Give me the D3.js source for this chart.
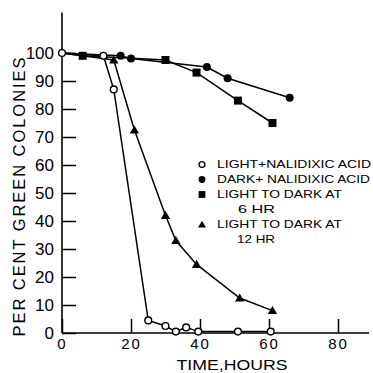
<!DOCTYPE html>
<html lang="en">
<head>
  <meta charset="UTF-8">
  <title>Per cent green colonies vs time</title>
  <script src="https://d3js.org/d3.v7.min.js"></script>
  <style>
    html, body { margin: 0; padding: 0; background: #fff; }
    svg text { font-family: "Liberation Sans", Arial, sans-serif; fill: #000; }
  </style>
</head>
<body>
  <div id="chart"></div>
  <script>
    // Data (time in hours, per cent green colonies)
    const lightNalHours = [0, 12, 15, 25, 30, 33, 36, 39.5, 51, 60.5];
    const lightNalPct   = [100, 99, 87, 4.5, 2.5, 0.5, 2, 0.5, 0.5, 0.5];

    const darkNalHours = [0, 17, 20, 42, 48, 66];
    const darkNalPct   = [100, 99, 98, 95, 91, 84];

    const dark6Hours = [0, 6, 30, 39, 51, 61];
    const dark6Pct   = [100, 99, 97.5, 93, 83, 75];

    const dark12Hours = [0, 15, 21, 30, 33, 39, 51.5, 61];
    const dark12Pct   = [100, 97.5, 72.5, 42, 33, 24.5, 12.5, 8];

    const xTicks = [0, 20, 40, 60, 80];
    const yTicks = [0, 10, 20, 30, 40, 50, 60, 70, 80, 90, 100];

    const legendLines = [
      ["LIGHT+NALIDIXIC ACID"],
      ["DARK+ NALIDIXIC ACID"],
      ["LIGHT TO DARK AT", "6 HR"],
      ["LIGHT TO DARK AT", "12 HR"]
    ];

    const width = 373, height = 373;

    const svg = d3.select("#chart").append("svg")
      .attr("width", width)
      .attr("height", height);

    // Scales
    const x = d3.scaleLinear().domain([0, 80]).range([62, 338]);
    const y = d3.scaleLinear().domain([0, 100]).range([333, 53]);

    // Axis lines (run past the last tick like the original)
    svg.append("line")
      .attr("x1", x(0)).attr("x2", x(0))
      .attr("y1", y(0)).attr("y2", y(114.5))
      .attr("stroke", "#000").attr("stroke-width", 1.6);
    svg.append("line")
      .attr("x1", x(0)).attr("x2", x(89))
      .attr("y1", y(0)).attr("y2", y(0))
      .attr("stroke", "#000").attr("stroke-width", 1.6);

    // Y axis, ticks point inward
    const yAxis = d3.axisLeft(y).tickValues(yTicks)
      .tickSizeInner(-14).tickSizeOuter(0).tickPadding(8)
      .tickFormat(d3.format("d"));
    const gy = svg.append("g")
      .attr("transform", `translate(${x(0)},0)`)
      .call(yAxis);
    gy.select(".domain").remove();
    gy.selectAll(".tick line").attr("stroke", "#000").attr("stroke-width", 1.5);
    gy.selectAll(".tick text")
      .attr("font-size", 17)
      .attr("font-family", "Liberation Sans, Arial, sans-serif");

    // X axis
    const xAxis = d3.axisBottom(x).tickValues(xTicks)
      .tickSizeInner(-14).tickSizeOuter(0).tickPadding(5)
      .tickFormat(d3.format("d"));
    const gx = svg.append("g")
      .attr("transform", `translate(0,${y(0)})`)
      .call(xAxis);
    gx.select(".domain").remove();
    gx.selectAll(".tick line").attr("stroke", "#000").attr("stroke-width", 1.5);
    gx.selectAll(".tick text")
      .attr("font-size", 15)
      .attr("letter-spacing", 2)
      .attr("font-family", "Liberation Sans, Arial, sans-serif");

    // Axis titles
    svg.append("text")
      .attr("x", 232).attr("y", 370)
      .attr("text-anchor", "middle")
      .attr("font-size", 15)
      .attr("textLength", 111)
      .attr("lengthAdjust", "spacingAndGlyphs")
      .text("TIME,HOURS");

    svg.append("text")
      .attr("transform", "translate(25,197) rotate(-90)")
      .attr("text-anchor", "middle")
      .attr("font-size", 16.5)
      .attr("textLength", 279)
      .attr("lengthAdjust", "spacing")
      .text("PER CENT GREEN COLONIES");

    // Series
    const zip = (xs, ys) => xs.map((h, i) => ({ h: h, p: ys[i] }));
    const series = [
      { pts: zip(dark6Hours, dark6Pct), marker: "square", skipFirst: true },
      { pts: zip(darkNalHours, darkNalPct), marker: "filled", skipFirst: true },
      { pts: zip(dark12Hours, dark12Pct), marker: "triangle", skipFirst: true },
      { pts: zip(lightNalHours, lightNalPct), marker: "open", skipFirst: false }
    ];

    const line = d3.line().x(d => x(d.h)).y(d => y(d.p));

    series.forEach(s => {
      svg.append("path")
        .datum(s.pts)
        .attr("d", line)
        .attr("fill", "none")
        .attr("stroke", "#000")
        .attr("stroke-width", 1.5);
    });

    function drawMarker(g, type, cx, cy, scale) {
      const k = scale || 1;
      if (type === "open") {
        g.append("circle").attr("cx", cx).attr("cy", cy).attr("r", 3.4 * k)
          .attr("fill", "#fff").attr("stroke", "#000").attr("stroke-width", 1.4);
      } else if (type === "filled") {
        g.append("circle").attr("cx", cx).attr("cy", cy).attr("r", 4 * k)
          .attr("fill", "#000");
      } else if (type === "square") {
        const s = 8 * k;
        g.append("rect").attr("x", cx - s / 2).attr("y", cy - s / 2)
          .attr("width", s).attr("height", s).attr("fill", "#000");
      } else if (type === "triangle") {
        g.append("path")
          .attr("d", d3.symbol().type(d3.symbolTriangle).size(38 * k * k)())
          .attr("transform", `translate(${cx},${cy + 0.8})`)
          .attr("fill", "#000");
      }
    }

    const marks = svg.append("g");
    series.forEach(s => {
      s.pts.forEach((d, i) => {
        if (s.skipFirst && i === 0) return;
        drawMarker(marks, s.marker, x(d.h), y(d.p));
      });
    });

    // Legend
    const legend = svg.append("g").attr("id", "legend");
    const legendMarkers = ["open", "filled", "square", "triangle"];
    const textWidths = { "LIGHT+NALIDIXIC ACID": 154, "DARK+ NALIDIXIC ACID": 153,
                         "LIGHT TO DARK AT": 125, "6 HR": 37, "12 HR": 38 };
    let baseline = 168;
    legendLines.forEach((lines, i) => {
      drawMarker(legend, legendMarkers[i], 202, baseline - 3.5, 0.85);
      lines.forEach((t, j) => {
        legend.append("text")
          .attr("x", j === 0 ? 217 : (t === "6 HR" ? 238 : 237))
          .attr("y", baseline)
          .attr("font-size", 11.5)
          .attr("textLength", textWidths[t])
          .attr("lengthAdjust", "spacingAndGlyphs")
          .text(t);
        baseline += 15;
      });
    });
  </script>
</body>
</html>
